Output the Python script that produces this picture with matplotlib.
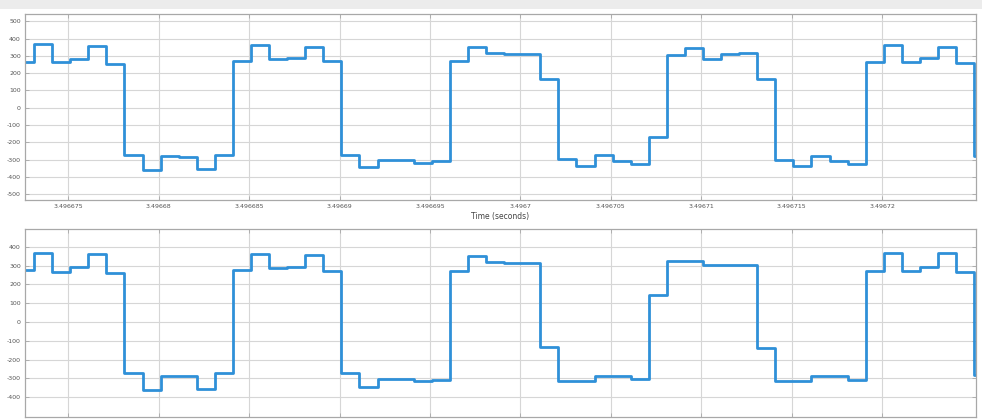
import numpy as np
import matplotlib
matplotlib.use("Agg")
import matplotlib.pyplot as plt
from matplotlib.patches import Rectangle

# sample instants (1 us sample period) and values
t_start = 3.4966721
t_step = 1e-6
top_vals = [266, 367, 263, 284, 357, 255, -276, -363, -280, -285, -355, -276,
            270, 363, 280, 286, 349, 272, -274, -342, -301, -305, -318, -307,
            272, 353, 318, 310, 308, 164, -299, -336, -276, -307, -326, -168,
            305, 344, 280, 311, 315, 164, -303, -336, -278, -307, -328,
            266, 363, 266, 286, 353, 257, -280]
bot_vals = [276, 368, 267, 294, 361, 258, -269, -363, -285, -285, -356, -273,
            276, 359, 285, 290, 356, 273, -270, -345, -303, -305, -315, -310,
            270, 350, 318, 313, 313, -133, -313, -313, -287, -287, -305, 143,
            324, 324, 303, 303, 305, -138, -313, -313, -287, -287, -308,
            270, 366, 270, 292, 366, 265, -280]
t = t_start + t_step * np.arange(len(top_vals) + 1)

x_ticks = [3.496675, 3.49668, 3.496685, 3.49669, 3.496695, 3.4967,
           3.496705, 3.49671, 3.496715, 3.49672]
x_tick_labels = ['3.496675', '3.49668', '3.496685', '3.49669', '3.496695',
                 '3.4967', '3.496705', '3.49671', '3.496715', '3.49672']
top_yticks = [-500, -400, -300, -200, -100, 0, 100, 200, 300, 400, 500]
bot_yticks = [-400, -300, -200, -100, 0, 100, 200, 300, 400]
xlim = (3.4966726, 3.4967252)

line_color = '#2f90d8'
grid_color = '#d6d6d6'
frame_color = '#a8a8a8'
tick_color = '#555555'

fig = plt.figure(figsize=(9.82, 4.19), dpi=100)
fig.patch.set_facecolor('white')

# toolbar strip at the top
fig.add_artist(Rectangle((0, 1 - 9/419), 1, 9/419, transform=fig.transFigure,
                         facecolor='#ececec', edgecolor='none'))

def style(ax, yticks, ylim, show_xlabels):
    ax.set_xlim(*xlim)
    ax.set_ylim(*ylim)
    ax.set_xticks(x_ticks)
    ax.set_yticks(yticks)
    ax.set_yticklabels([str(v) for v in yticks])
    if show_xlabels:
        ax.set_xticklabels(x_tick_labels)
    else:
        ax.set_xticklabels([])
    ax.grid(True, color=grid_color, linewidth=0.8)
    ax.set_axisbelow(True)
    ax.tick_params(direction='in', length=3, width=0.6, colors=frame_color,
                   labelcolor=tick_color, labelsize=4.5, top=True, right=True,
                   pad=3)
    for s in ax.spines.values():
        s.set_color(frame_color)
        s.set_linewidth(0.9)

ax1 = fig.add_axes([25/982, 1 - 200/419, 951/982, 186/419])
ax1.step(t, top_vals + [top_vals[-1]], where='post', color=line_color,
         linewidth=2.0)
style(ax1, top_yticks, (-534, 542), True)
ax1.set_xlabel('Time (seconds)', fontsize=5.5, color='#444444', labelpad=2)

ax2 = fig.add_axes([25/982, 1 - 417/419, 951/982, 188/419])
ax2.step(t, bot_vals + [bot_vals[-1]], where='post', color=line_color,
         linewidth=2.0)
style(ax2, bot_yticks, (-505, 494), False)

fig.savefig('out.png', dpi=100)
